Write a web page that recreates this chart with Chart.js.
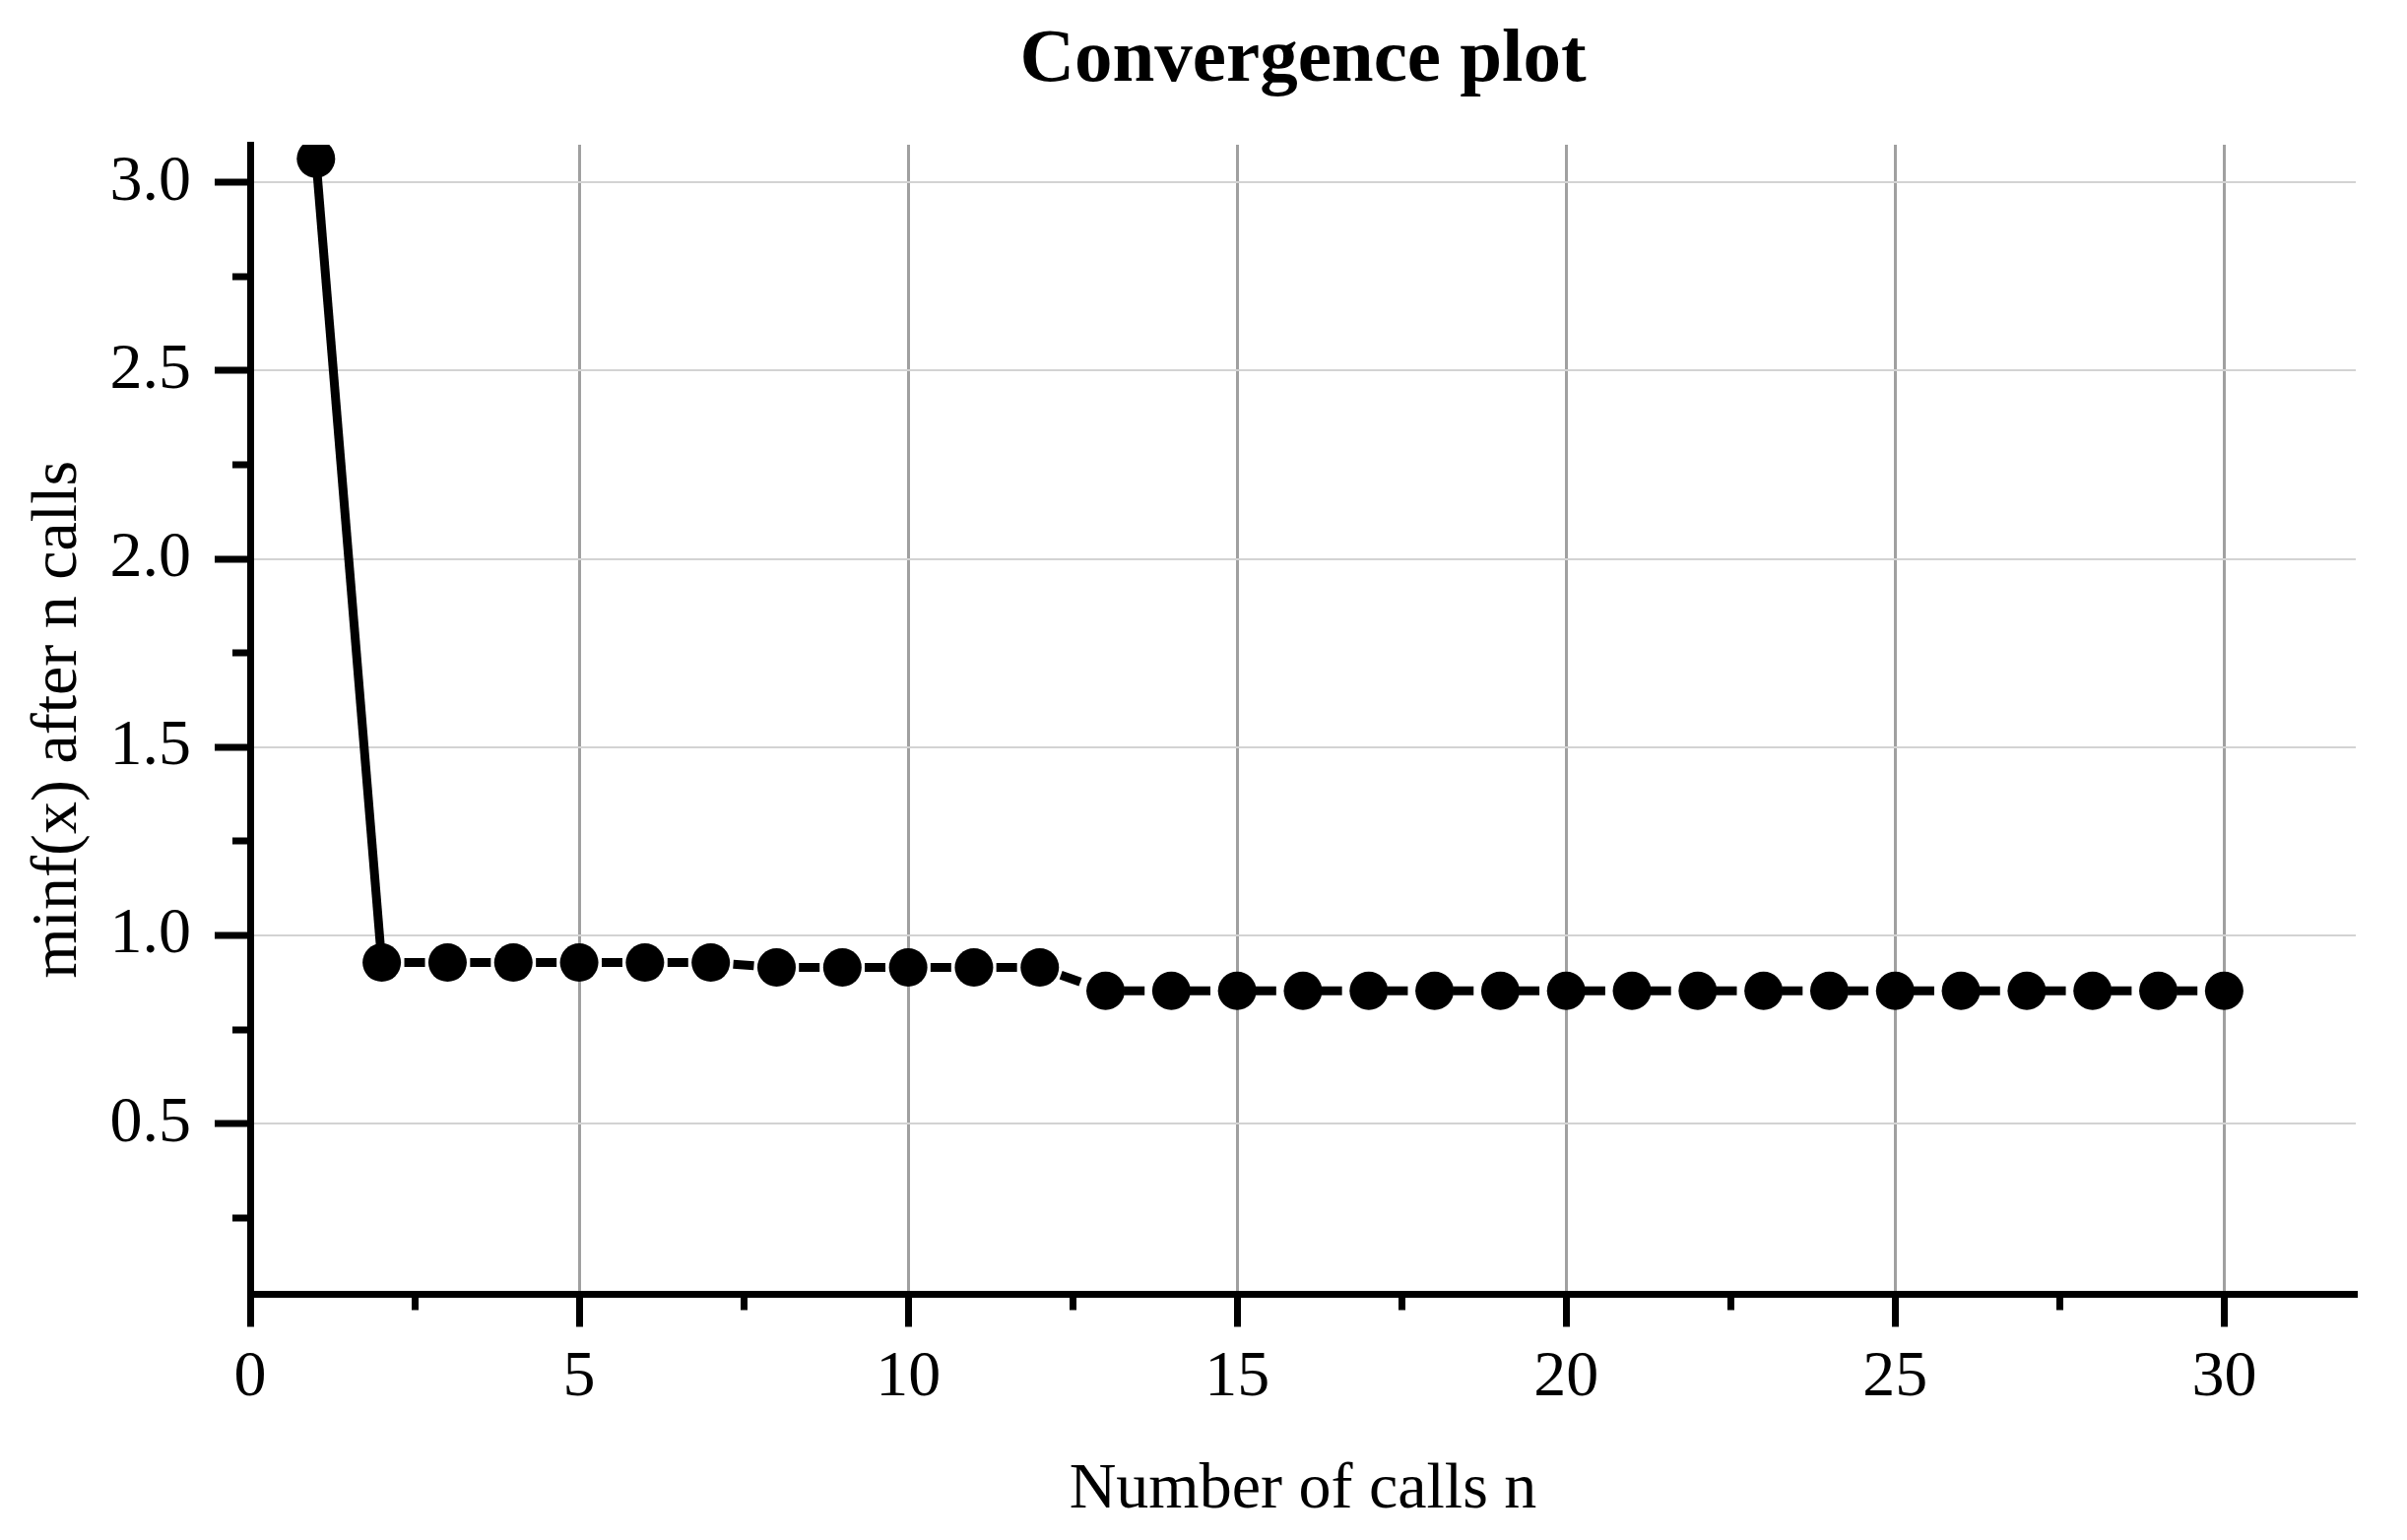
<!DOCTYPE html>
<html>
<head>
<meta charset="utf-8">
<title>Convergence plot</title>
<script src="https://cdn.jsdelivr.net/npm/chart.js@4.4.1/dist/chart.umd.min.js"></script>
<style>
    html, body { margin: 0; padding: 0; background: #ffffff; }
    #wrap { width: 2444px; height: 1564px; }
</style>
</head>
<body>
<div id="wrap"><canvas id="myChart" width="2444" height="1564"></canvas></div>
<script>
// number of calls on the x axis
var calls = [1, 2, 3, 4, 5, 6, 7, 8, 9, 10,
             11, 12, 13, 14, 15, 16, 17, 18, 19, 20,
             21, 22, 23, 24, 25, 26, 27, 28, 29, 30];
// best value found so far
var minValues = [3.063, 0.928, 0.928, 0.928, 0.928, 0.928, 0.928, 0.915, 0.915, 0.915,
                 0.915, 0.915, 0.853, 0.853, 0.853, 0.853, 0.853, 0.853, 0.853, 0.853,
                 0.853, 0.853, 0.853, 0.853, 0.853, 0.853, 0.853, 0.853, 0.853, 0.853];

var xRange = [0, 32];
var yRange = [0.047, 3.1];
var xMajorStep = 5, xMinorStep = 2.5;
var yMajorStep = 0.5, yMinorStep = 0.25;

var serif = "'Liberation Serif', 'Times New Roman', serif";

function isMultiple(v, step) {
    var r = v / step;
    return Math.abs(r - Math.round(r)) < 1e-6;
}

function unitPx(chart) {
    var sc = chart && chart.scales && chart.scales.x;
    if (!sc) return 66.8;
    return sc.getPixelForValue(1) - sc.getPixelForValue(0);
}

var points = calls.map(function (c, i) {
    return { x: c, y: minValues[i] };
});

Chart.defaults.font.family = serif;
Chart.defaults.color = "#000000";

var ctx = document.getElementById("myChart").getContext("2d");
var chart = new Chart(ctx, {
    type: "line",
    data: {
        datasets: [
            {
                label: "minf(x)",
                data: points,
                borderColor: "#000000",
                borderWidth: 9,
                borderCapStyle: "butt",
                tension: 0,
                pointRadius: 19.5,
                pointHoverRadius: 19.5,
                pointBorderWidth: 0,
                pointBackgroundColor: "#000000",
                segment: {
                    // first jump is solid, the rest dashed, one dash between markers
                    borderDash: function (c) {
                        if (c.p0DataIndex === 0) return [];
                        var step = unitPx(c.chart);
                        return [21, step - 21];
                    },
                    borderDashOffset: function (c) {
                        if (c.p0DataIndex === 0) return 0;
                        var step = unitPx(c.chart);
                        return step - (step - 21) / 2;
                    }
                }
            }
        ]
    },
    options: {
        responsive: false,
        animation: false,
        devicePixelRatio: 1,
        layout: { padding: { left: 0, right: 52, top: 0, bottom: 0 } },
        plugins: {
            legend: { display: false },
            tooltip: { enabled: false },
            title: {
                display: true,
                text: "Convergence plot",
                fullSize: false,
                color: "#000000",
                font: { family: serif, size: 77, weight: "bold", lineHeight: 1.2 },
                padding: { top: 16, bottom: 38.6 }
            }
        },
        scales: {
            x: {
                type: "linear",
                min: xRange[0],
                max: xRange[1],
                afterFit: function (scale) { scale.height = 249.5; },
                border: { display: true, color: "#000000", width: 7 },
                grid: {
                    color: function (c) {
                        return isMultiple(c.tick.value, xMajorStep) ? "#a0a0a0" : "rgba(0,0,0,0)";
                    },
                    lineWidth: 3,
                    drawTicks: true,
                    tickLength: 33,
                    tickColor: "#000000",
                    tickWidth: 7,
                    tickBorderDash: function (c) {
                        return isMultiple(c.tick.value, xMajorStep) ? [] : [12.5, 100];
                    }
                },
                ticks: {
                    stepSize: xMinorStep,
                    includeBounds: false,
                    autoSkip: false,
                    maxRotation: 0,
                    padding: 13,
                    font: { family: serif, size: 66, lineHeight: 1.2 },
                    callback: function (v) {
                        return isMultiple(v, xMajorStep) ? String(v) : "";
                    }
                },
                title: {
                    display: true,
                    text: "Number of calls n",
                    color: "#000000",
                    font: { family: serif, size: 66, lineHeight: 1.2 },
                    padding: { top: 0, bottom: 11 }
                }
            },
            y: {
                type: "linear",
                min: yRange[0],
                max: yRange[1],
                afterFit: function (scale) { scale.width = 254; },
                border: { display: true, color: "#000000", width: 7 },
                grid: {
                    color: function (c) {
                        return isMultiple(c.tick.value, yMajorStep) ? "#d3d3d3" : "rgba(0,0,0,0)";
                    },
                    lineWidth: 2,
                    drawTicks: true,
                    tickLength: 36,
                    tickColor: "#000000",
                    tickWidth: 7,
                    tickBorderDash: function (c) {
                        return isMultiple(c.tick.value, yMajorStep) ? [] : [0, 18, 100];
                    }
                },
                ticks: {
                    stepSize: yMinorStep,
                    includeBounds: false,
                    autoSkip: false,
                    padding: 24,
                    font: { family: serif, size: 66, lineHeight: 1.2 },
                    callback: function (v) {
                        return isMultiple(v, yMajorStep) ? v.toFixed(1) : "";
                    }
                },
                title: {
                    display: true,
                    text: "minf(x) after n calls",
                    color: "#000000",
                    font: { family: serif, size: 66, lineHeight: 1.2 },
                    padding: { top: 20, bottom: 0 }
                }
            }
        }
    }
});
</script>
</body>
</html>
